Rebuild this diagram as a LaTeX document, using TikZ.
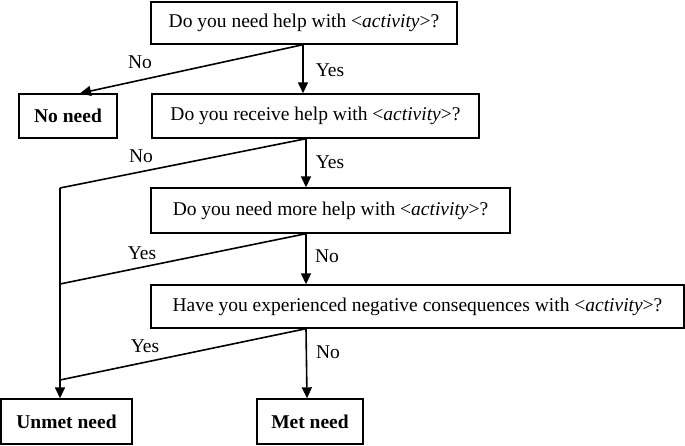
\documentclass[tikz,border=0pt]{standalone}
\usepackage{fontspec}
\setmainfont{Liberation Serif}
\usetikzlibrary{arrows.meta,calc}
\begin{document}
\begin{tikzpicture}[x=1pt,y=-1pt,
  box/.style={draw,line width=1.4pt,rectangle,inner sep=0pt,font=\fontsize{19.5}{22}\selectfont},
  lab/.style={font=\fontsize{19.5}{22}\selectfont,inner sep=0pt},
  conn/.style={line width=1.6pt},
  arr/.style={line width=1.6pt,-{Triangle[length=11pt,width=10pt]}}]
\useasboundingbox (0,0) rectangle (685,446);
\node[box,minimum width=306pt,minimum height=42pt] (q1) at (304,23) {Do you need help with <\textit{activity}>?};
\node[box,minimum width=98pt,minimum height=44pt] (nn) at (68,116) {\textbf{No need}};
\node[box,minimum width=327pt,minimum height=44pt] (q2) at (315.5,116) {Do you receive help with <\textit{activity}>?};
\node[box,minimum width=359pt,minimum height=45pt] (q3) at (330.5,210.5) {Do you need more help with <\textit{activity}>?};
\node[box,minimum width=533pt,minimum height=43pt] (q4) at (417.5,306.5) {Have you experienced negative consequences with <\textit{activity}>?};
\node[box,minimum width=131pt,minimum height=45pt] (un) at (66.5,421.5) {\textbf{Unmet need}};
\node[box,minimum width=106pt,minimum height=45pt] (met) at (310,421.5) {\textbf{Met need}};
\coordinate (ma) at (303,0);
\coordinate (mb) at (306,0);
\coordinate (mc) at (307,0);
\coordinate (ln) at (80,0);
\coordinate (j1) at (60,188);
\coordinate (j2) at (60,284);
\coordinate (j3) at (60,380);
\draw[arr] (q1.south -| ma) -- (q2.north -| ma);
\draw[arr] (q1.south -| ma) -- (nn.north -| ln);
\draw[arr] (q2.south -| mb) -- (q3.north -| mb);
\draw[conn] (q2.south -| mb) -- (j1);
\draw[arr] (q3.south -| mb) -- (q4.north -| mb);
\draw[conn] (q3.south -| mb) -- (j2);
\draw[arr] (q4.south -| mb) -- (met.north -| mc);
\draw[conn] (q4.south -| mb) -- (j3);
\draw[arr] (j1) -- (un.north -| j1);
\node[lab] (l1) at (140,62) {No};
\node[lab] (l2) at (330,70) {Yes};
\node[lab] (l3) at (141,156) {No};
\node[lab] (l4) at (330,162) {Yes};
\node[lab] (l5) at (142,253) {Yes};
\node[lab] (l6) at (327,256) {No};
\node[lab] (l7) at (145,346) {Yes};
\node[lab] (l8) at (328,352) {No};
\end{tikzpicture}
\end{document}
